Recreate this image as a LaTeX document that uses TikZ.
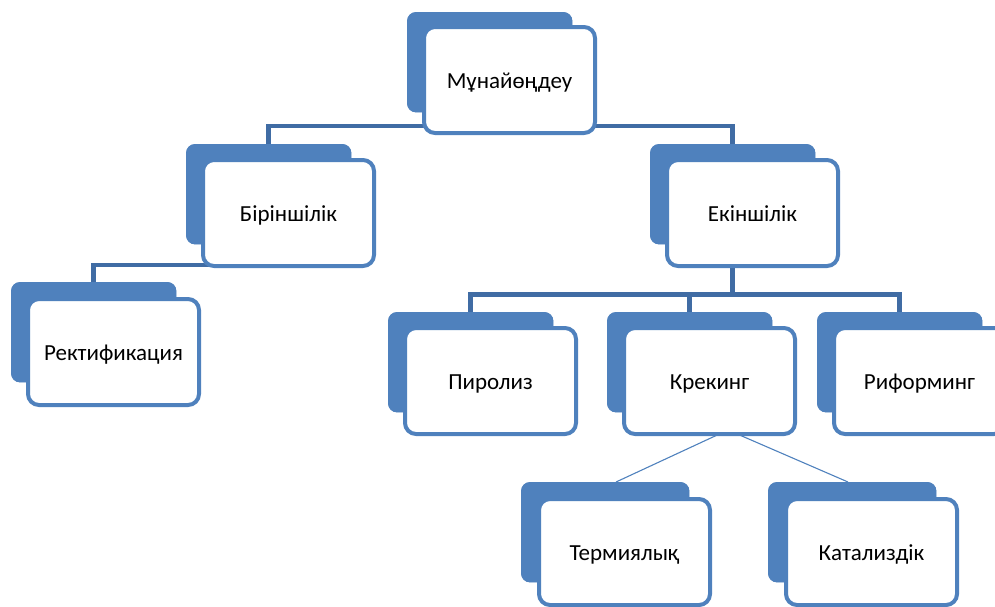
\documentclass[tikz,border=0pt]{standalone}
\usepackage{fontspec}
\setmainfont{Carlito}
\usetikzlibrary{calc}
\definecolor{accent}{RGB}{79,129,189}
\definecolor{linkblue}{RGB}{64,108,164}
\begin{document}
\begin{tikzpicture}[x=1pt,y=-1pt,
  backbox/.style={fill=accent, draw=none, rounded corners=9pt, anchor=north west,
    minimum width=165pt, minimum height=100pt, inner sep=0pt},
  frontbox/.style={fill=white, draw=accent, line width=4pt, rounded corners=11pt,
    minimum width=171pt, minimum height=106pt, inner sep=0pt,
    text height=17pt, text depth=0pt,
    font=\fontsize{23}{27}\selectfont, text=black},
  conn/.style={draw=linkblue, line width=4.6pt},
  thin/.style={draw=accent, line width=1.1pt}]
\useasboundingbox (0,0) rectangle (995,606);

% back panels (positions of their top-left corners)
\node[backbox] (topB) at (407,12)  {};
\node[backbox] (b1B)  at (186,144) {};
\node[backbox] (b2B)  at (650,144) {};
\node[backbox] (recB) at (11,282)  {};
\node[backbox] (pirB) at (388,312) {};
\node[backbox] (krB)  at (607,312) {};
\node[backbox] (rifB) at (817,312) {};
\node[backbox, minimum width=168pt] (terB) at (521,482) {};
\node[backbox, minimum width=168pt] (katB) at (768,482) {};

% elbow connectors between levels
\coordinate (j1) at ($(topB.south)+(0,13.5)$);
\coordinate (j2) at ($(b1B.south)+(0,20.5)$);
\coordinate (j3) at ($(b2B.south)+(0,50)$);
\draw[conn] (topB.south) -- (j1);
\draw[conn] (b1B.north) |- (j1) -| (b2B.north);
\draw[conn] (b1B.south) -- (j2) -| (recB.north);
\draw[conn] (b2B.south) -- (j3);
\draw[conn] (pirB.north) |- (j3) -| (rifB.north);
\draw[conn] (krB.north) -- (krB.north |- j3);

% thin links below the cracking node
\coordinate (kf) at (728,430);
\coordinate (terTop) at (616,482);
\coordinate (katTop) at (848,482);
\draw[thin] (kf) -- (terTop);
\draw[thin] (kf) -- (katTop);

% back panels drawn again over the connector stubs
\foreach \b in {topB,b1B,b2B,recB,pirB,krB,rifB,terB,katB}
  \fill[accent, rounded corners=9pt] (\b.north west) rectangle (\b.south east);

% front labelled boxes
\node[frontbox] (top) at ($(topB.north west)+(102.5,68)$) {Мұнайөңдеу};
\node[frontbox] (b1)  at ($(b1B.north west)+(102.5,69)$)  {Біріншілік};
\node[frontbox] (b2)  at ($(b2B.north west)+(102.5,69)$)  {Екіншілік};
\node[frontbox] (rec) at ($(recB.north west)+(102.5,70)$) {Ректификация};
\node[frontbox] (pir) at ($(pirB.north west)+(102.5,69)$) {Пиролиз};
\node[frontbox] (kr)  at ($(krB.north west)+(102.5,69)$)  {Крекинг};
\node[frontbox] (rif) at ($(rifB.north west)+(102.5,69)$) {Риформинг};
\node[frontbox] (ter) at ($(terB.north west)+(103.5,70)$) {Термиялық};
\node[frontbox] (kat) at ($(katB.north west)+(103.5,70)$) {Катализдік};
\end{tikzpicture}
\end{document}
